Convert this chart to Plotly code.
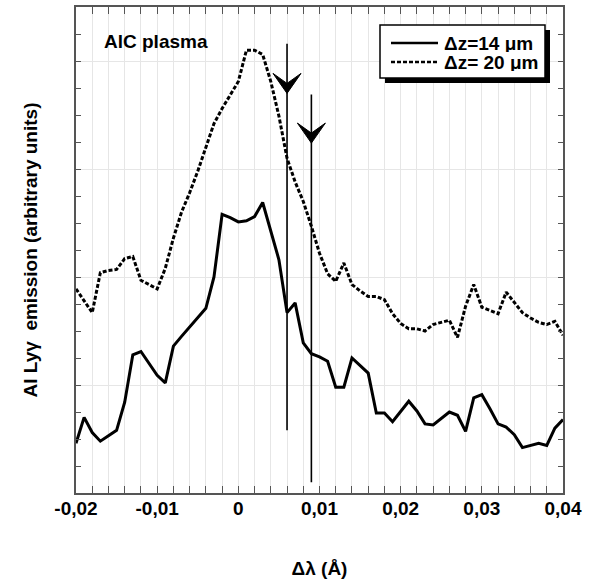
import plotly.graph_objects as go

# ---- data ----
delta_lambda = [-0.020, -0.019, -0.018, -0.017, -0.016, -0.015, -0.014, -0.013, -0.012, -0.011,
                -0.010, -0.009, -0.008, -0.007, -0.006, -0.005, -0.004, -0.003, -0.002, -0.001,
                0.000, 0.001, 0.002, 0.003, 0.004, 0.005, 0.006, 0.007, 0.008, 0.009,
                0.010, 0.011, 0.012, 0.013, 0.014, 0.015, 0.016, 0.017, 0.018, 0.019,
                0.020, 0.021, 0.022, 0.023, 0.024, 0.025, 0.026, 0.027, 0.028, 0.029,
                0.030, 0.031, 0.032, 0.033, 0.034, 0.035, 0.036, 0.037, 0.038, 0.039, 0.040]

emission_dz14 = [0.46, 0.70, 0.56, 0.48, 0.53, 0.58, 0.84, 1.28, 1.31, 1.20,
                 1.09, 1.02, 1.36, 1.45, 1.54, 1.63, 1.71, 2.00, 2.58, 2.55,
                 2.51, 2.52, 2.56, 2.69, 2.43, 2.16, 1.67, 1.76, 1.39, 1.29,
                 1.26, 1.22, 0.98, 0.98, 1.25, 1.18, 1.11, 0.74, 0.74, 0.66,
                 0.75, 0.85, 0.76, 0.64, 0.63, 0.69, 0.75, 0.72, 0.57, 0.88,
                 0.91, 0.78, 0.64, 0.61, 0.54, 0.42, 0.44, 0.46, 0.44, 0.60, 0.68]

emission_dz20 = [1.89, 1.78, 1.67, 2.04, 2.06, 2.07, 2.17, 2.19, 1.97, 1.93,
                 1.89, 2.08, 2.36, 2.60, 2.78, 2.98, 3.20, 3.42, 3.56, 3.69,
                 3.81, 4.10, 4.10, 4.06, 3.81, 3.49, 3.10, 2.88, 2.70, 2.47,
                 2.22, 2.03, 1.96, 2.13, 1.93, 1.87, 1.82, 1.82, 1.79, 1.66,
                 1.57, 1.52, 1.52, 1.50, 1.56, 1.58, 1.60, 1.44, 1.73, 1.93,
                 1.72, 1.69, 1.66, 1.86, 1.76, 1.67, 1.62, 1.58, 1.56, 1.59, 1.46]

series_names = ["\u0394z=14 \u03bcm", "\u0394z= 20 \u03bcm"]
series_dash = ["solid", "4px,2px"]

x_tickvals = [-0.02, -0.01, 0.0, 0.01, 0.02, 0.03, 0.04]
x_ticktext = ["-0,02", "-0,01", "0", "0,01", "0,02", "0,03", "0,04"]

# marker lines with arrows
arrow_x = [0.006, 0.009]
arrow_top = [4.16, 3.69]
arrow_bottom = [0.58, 0.10]
arrow_tip = [3.70, 3.24]

# ---- layout geometry (pixels) ----
W, H = 595, 581
L, R, T, B = 76, 32, 7, 88
PW, PH = W - L - R, H - T - B


def px(xp):
    return (xp - L) / PW


def py(yp):
    return (H - B - yp) / PH


FONT = "Liberation Sans, Arial, sans-serif"

fig = go.Figure()
for yvals, name, dash in zip([emission_dz14, emission_dz20], series_names, series_dash):
    fig.add_trace(go.Scatter(x=delta_lambda, y=yvals, mode="lines", name=name,
                             showlegend=False, line=dict(color="black", width=3, dash=dash)))

shapes = []
for xa, yt, yb, ytip in zip(arrow_x, arrow_top, arrow_bottom, arrow_tip):
    shapes.append(dict(type="line", xref="x", yref="y", x0=xa, x1=xa, y0=yb, y1=yt,
                       line=dict(color="black", width=1.6), layer="above"))
    shapes.append(dict(type="path", xref="x", yref="y", xsizemode="pixel", ysizemode="pixel",
                       xanchor=xa, yanchor=ytip,
                       path="M0,0 L-14,20 L0,10 L14,20 Z",
                       fillcolor="black", line=dict(color="black", width=1), layer="above"))

# hand-made legend box with shadow
shapes.append(dict(type="rect", xref="paper", yref="paper",
                   x0=px(385), x1=px(550), y0=py(83), y1=py(30),
                   fillcolor="black", line=dict(width=0), layer="above"))
shapes.append(dict(type="rect", xref="paper", yref="paper",
                   x0=px(380), x1=px(545), y0=py(78), y1=py(25),
                   fillcolor="white", line=dict(color="black", width=1.5), layer="above"))
annotations = []
for i, (name, dash) in enumerate(zip(series_names, series_dash)):
    yy = 43 + 19 * i
    shapes.append(dict(type="line", xref="paper", yref="paper",
                       x0=px(391), x1=px(438), y0=py(yy), y1=py(yy),
                       line=dict(color="black", width=2.5, dash=dash), layer="above"))
    annotations.append(dict(text="<b>" + name + "</b>", xref="paper", yref="paper",
                            x=px(442), y=py(yy), xanchor="left", yanchor="middle",
                            height=18, showarrow=False, font=dict(size=19)))

annotations.append(dict(text="<b>AlC plasma</b>", xref="paper", yref="paper",
                        x=px(102), y=py(42), xanchor="left", yanchor="middle",
                        showarrow=False, font=dict(size=19)))

fig.update_layout(
    width=W, height=H,
    margin=dict(l=L, r=R, t=T, b=B),
    paper_bgcolor="white", plot_bgcolor="white",
    font=dict(family=FONT, color="black", size=19),
    showlegend=False,
    shapes=shapes,
    annotations=annotations,
)

fig.update_xaxes(
    range=[-0.02, 0.04], tickvals=x_tickvals, ticktext=x_ticktext, automargin=False,
    tickfont=dict(size=19, weight="bold"), ticks="inside", ticklen=7, tickcolor="#555",
    ticklabelstandoff=-3,
    showline=True, linecolor="#555", linewidth=1.5, mirror="ticks",
    showgrid=True, gridcolor="#e6e6e6", gridwidth=1, zeroline=False,
    minor=dict(dtick=0.002, ticks="inside", ticklen=7, tickcolor="#555", showgrid=True,
               gridcolor="#e6e6e6", gridwidth=1),
    title=dict(text="<b>\u0394\u03bb (\u00c5)</b>", font=dict(size=19), standoff=44),
)
fig.update_yaxes(
    range=[0, 4.5], tickvals=[0, 1, 2, 3, 4], showticklabels=False, automargin=False,
    ticks="inside", ticklen=5, tickcolor="#555",
    showline=True, linecolor="#555", linewidth=1.5, mirror="ticks",
    showgrid=True, gridcolor="#e6e6e6", gridwidth=1, zeroline=False,
    minor=dict(dtick=0.25, ticks="inside", ticklen=5, tickcolor="#555", showgrid=False),
    title=dict(text="<b>Al Ly\u03b3  emission (arbitrary units)</b>", font=dict(size=19), standoff=32),
)

fig.write_html("out.html", config={"displayModeBar": False},
               post_script="document.body.style.margin='0';")
